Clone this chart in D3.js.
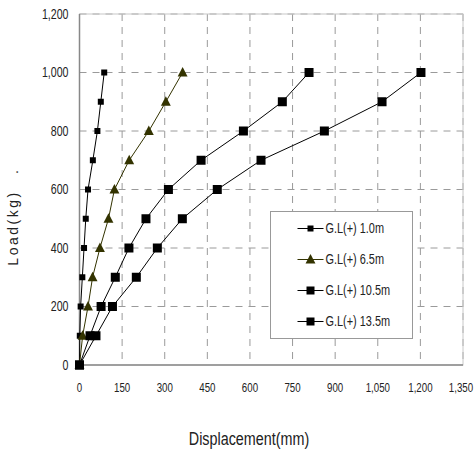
<!DOCTYPE html>
<html>
<head>
<meta charset="utf-8">
<script src="https://cdn.jsdelivr.net/npm/d3@7"></script>
<style>
body { margin: 0; background: #fff; }
svg text { font-family: "Liberation Sans", Arial, sans-serif; fill: #222; }
</style>
</head>
<body>
<svg id="chart" width="475" height="450"></svg>
<script>
const loads = [0, 100, 200, 300, 400, 500, 600, 700, 800, 900, 1000];
const gl10 = [0, 1, 4, 10, 16, 22, 30, 47, 63, 75, 87];
const gl65 = [0, 11, 30, 46, 72, 102, 123, 175, 244, 304, 363];
const gl105 = [0, 37, 76, 126, 174, 234, 313, 428, 577, 714, 808];
const gl135 = [0, 58, 116, 200, 274, 362, 485, 639, 862, 1065, 1202];
const seriesNames = ["G.L(+) 1.0m", "G.L(+) 6.5m", "G.L(+) 10.5m", "G.L(+) 13.5m"];
const xTicks = [0, 150, 300, 450, 600, 750, 900, 1050, 1200, 1350];
const yTicks = [0, 200, 400, 600, 800, 1000, 1200];

const margin = { top: 14, right: 12, bottom: 85, left: 79.5 },
    width = 475 - margin.left - margin.right,
    height = 450 - margin.top - margin.bottom;

const svg = d3.select("#chart");
const g = svg.append("g").attr("transform", `translate(${margin.left},${margin.top})`);

const x = d3.scaleLinear().domain([0, 1350]).range([0, width]);
const y = d3.scaleLinear().domain([0, 1200]).range([height, 0]);
const fmt = d3.format(",");

// narrow-looking text: squeeze horizontally
function narrow(sel, px, py, txt, anchor, size, sx = 0.78) {
    return sel.append("text")
        .attr("transform", `translate(${px},${py}) scale(${sx},1)`)
        .attr("dy", "0.35em").attr("text-anchor", anchor)
        .style("font-size", size + "px").text(txt);
}

// grid
g.selectAll(".vgrid").data(xTicks.slice(1)).join("line")
    .attr("x1", d => x(d)).attr("x2", d => x(d)).attr("y1", 0).attr("y2", height)
    .attr("stroke", "#9a9a9a").attr("stroke-dasharray", "7,6");
g.selectAll(".hgrid").data(yTicks.slice(1)).join("line")
    .attr("x1", 0).attr("x2", width).attr("y1", d => y(d)).attr("y2", d => y(d))
    .attr("stroke", "#9a9a9a").attr("stroke-dasharray", "7,6");
g.append("rect").attr("width", width).attr("height", height)
    .attr("fill", "none").attr("stroke", "#c8c8c8");
g.append("line").attr("x1", 0).attr("x2", 0).attr("y1", 0).attr("y2", height).attr("stroke", "#888").attr("stroke-width", 1.5);
g.append("line").attr("x1", 0).attr("x2", width).attr("y1", height).attr("y2", height).attr("stroke", "#888").attr("stroke-width", 1.5);

// tick labels
yTicks.forEach(d => narrow(g, -11, y(d), fmt(d), "end", 14, 0.76));
xTicks.forEach((d, i) => narrow(g, x(d) - (i === xTicks.length - 1 ? 2 : 0), height + 22, fmt(d), "middle", 13.5, 0.72));

narrow(svg, 249, 439, "Displacement(mm)", "middle", 17.5, 0.82);
svg.append("text").attr("transform", "translate(18,228) rotate(-90)")
    .attr("text-anchor", "middle")
    .style("font-size", "14px").style("letter-spacing", "2.5px").text("Load(kg)");
svg.append("text").attr("transform", "translate(18,172) rotate(-90)")
    .attr("text-anchor", "middle").style("font-size", "14px").text(".");

// series
const series = [
    { name: seriesNames[0], values: gl10, color: "#000", shape: "square", size: 6 },
    { name: seriesNames[1], values: gl65, color: "#333300", shape: "triangle", size: 9 },
    { name: seriesNames[2], values: gl105, color: "#000", shape: "square", size: 9 },
    { name: seriesNames[3], values: gl135, color: "#000", shape: "square", size: 9 }
];

function marker(sel, s) {
    if (s.shape === "square") {
        sel.append("rect").attr("x", -s.size / 2).attr("y", -s.size / 2)
            .attr("width", s.size).attr("height", s.size).attr("fill", s.color);
    } else {
        const h = s.size;
        sel.append("path").attr("d", `M0,${-h * 0.6}L${h * 0.55},${h * 0.45}L${-h * 0.55},${h * 0.45}Z`)
            .attr("fill", s.color);
    }
}

const line = d3.line().x(d => x(d[0])).y(d => y(d[1]));
series.forEach(s => {
    const pts = s.values.map((v, i) => [v, loads[i]]);
    g.append("path").datum(pts).attr("d", line).attr("fill", "none")
        .attr("stroke", s.color).attr("stroke-width", 1);
    pts.forEach(p => {
        const m = g.append("g").attr("transform", `translate(${x(p[0])},${y(p[1])})`);
        marker(m, s);
    });
});

// legend
const legend = svg.append("g").attr("transform", "translate(270.5,211.5)");
legend.append("rect").attr("width", 142).attr("height", 127)
    .attr("fill", "#fff").attr("stroke", "#999");
series.forEach((s, i) => {
    const row = legend.append("g").attr("transform", `translate(0,${17 + i * 31})`);
    row.append("line").attr("x1", 27).attr("x2", 53).attr("stroke", s.color);
    const m = row.append("g").attr("transform", "translate(40,0)");
    marker(m, i === 0 ? s : { ...s, size: i === 1 ? 9 : 8 });
    narrow(row, 55, 0, s.name, "start", 14);
});
</script>
</body>
</html>
